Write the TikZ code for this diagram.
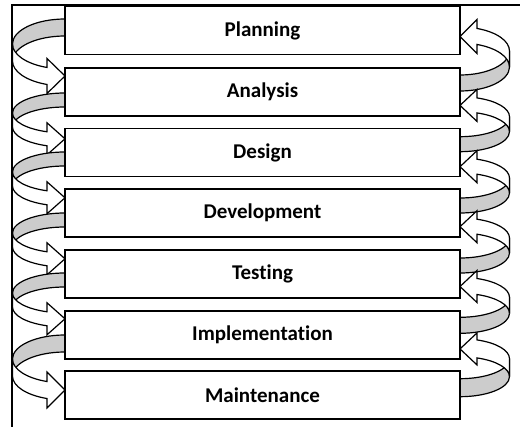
\documentclass[tikz,border=0pt]{standalone}
\usepackage{fontspec}
\setmainfont{Carlito}[Ligatures=NoCommon]
\usetikzlibrary{calc}
\pgfdeclarelayer{background}
\pgfsetlayers{background,main}
% #1 start point (outer edge of the grey band at the box), #2 horizontal radius,
% #3 vertical radius, #4 band thickness, #5 head length, #6 head width
\newcommand{\LeftCurl}[6]{%
  \pgfmathsetmacro\curlang{180-acos(#5/#2)}%
  \pgfmathsetmacro\curldh{(#6-#4)/2}%
  \pgfmathsetmacro\curlhv{#6/2}%
  \filldraw[backband] (#1) arc[start angle=270,end angle=180,x radius=#2,y radius=#3]
    -- ++(0,#4) arc[start angle=180,end angle=270,x radius=#2,y radius=#3] -- cycle;
  \filldraw[frontband] (#1) ++(-#2,#3) arc[start angle=180,end angle=\curlang,x radius=#2,y radius=#3]
    -- ++(0,-\curldh) -- ++(#5,\curlhv) -- ++(-#5,\curlhv) -- ++(0,-\curldh)
    arc[start angle=\curlang,end angle=180,x radius=#2,y radius=#3] -- cycle;
}
\newcommand{\RightCurl}[6]{%
  \pgfmathsetmacro\curlang{360-acos(#5/#2)}%
  \pgfmathsetmacro\curldh{(#6-#4)/2}%
  \pgfmathsetmacro\curlhv{#6/2}%
  \filldraw[backband] (#1) arc[start angle=90,end angle=0,x radius=#2,y radius=#3]
    -- ++(0,-#4) arc[start angle=0,end angle=90,x radius=#2,y radius=#3] -- cycle;
  \filldraw[frontband] (#1) ++(#2,-#3) arc[start angle=360,end angle=\curlang,x radius=#2,y radius=#3]
    -- ++(0,\curldh) -- ++(-#5,-\curlhv) -- ++(#5,-\curlhv) -- ++(0,\curldh)
    arc[start angle=\curlang,end angle=360,x radius=#2,y radius=#3] -- cycle;
}
\begin{document}
\begin{tikzpicture}[x=1pt,y=-1pt,
  box/.style={draw=black, line width=1.6pt, fill=white, minimum width=395pt,
    minimum height=48pt, anchor=north west, inner sep=0pt, outer sep=0pt,
    font=\fontsize{21}{24}\selectfont\bfseries},
  backband/.style={draw=black, line width=1.2pt, fill=gray!40, line join=round},
  frontband/.style={draw=black, line width=1.2pt, fill=white, line join=miter},
  frameline/.style={draw=black, line width=1.5pt}]
\useasboundingbox (0,0) rectangle (520,427);
\node[box] (b1) at (65,6.5) {Planning};
\node[box] (b2) at (65,68) {Analysis};
\node[box] (b3) at (65,128.5) {Design};
\node[box] (b4) at (65,189) {Development};
\node[box] (b5) at (65,250) {Testing};
\node[box] (b6) at (65,311) {Implementation};
\node[box] (b7) at (65,371) {Maintenance};
\begin{pgfonlayer}{background}
% forward arrows (left side)
\LeftCurl{$(b1.north west)+(0,12.5)$}{52.5}{25}{17}{18}{35}
\LeftCurl{$(b2.north west)+(0,25)$}{52.5}{20}{14}{18}{32}
\LeftCurl{$(b3.north west)+(0,23.5)$}{52.5}{20}{14}{18}{32}
\LeftCurl{$(b4.north west)+(0,24)$}{52.5}{20}{14}{18}{32}
\LeftCurl{$(b5.north west)+(0,23)$}{52.5}{20}{14}{18}{32}
\LeftCurl{$(b6.north west)+(0,24)$}{52.5}{24}{17}{18}{36}
% feedback arrows (right side)
\RightCurl{$(b2.north east)+(0,23)$}{49.5}{24}{16}{17}{34}
\RightCurl{$(b3.north east)+(0,23.2)$}{49.5}{20}{15}{17}{32}
\RightCurl{$(b4.north east)+(0,24)$}{49.5}{20}{15}{17}{32}
\RightCurl{$(b5.north east)+(0,23)$}{49.5}{20}{15}{17}{32}
\RightCurl{$(b6.north east)+(0,22.3)$}{49.5}{20}{16}{17}{32}
\RightCurl{$(b7.north east)+(0,25.7)$}{49.5}{20}{18}{17}{32}
\end{pgfonlayer}
\coordinate (fc) at (12,5);
\coordinate (fr) at (520,5);
\coordinate (fb) at (12,427);
\draw[frameline] (fr) -- (fc) -- (fb);
\end{tikzpicture}
\end{document}
